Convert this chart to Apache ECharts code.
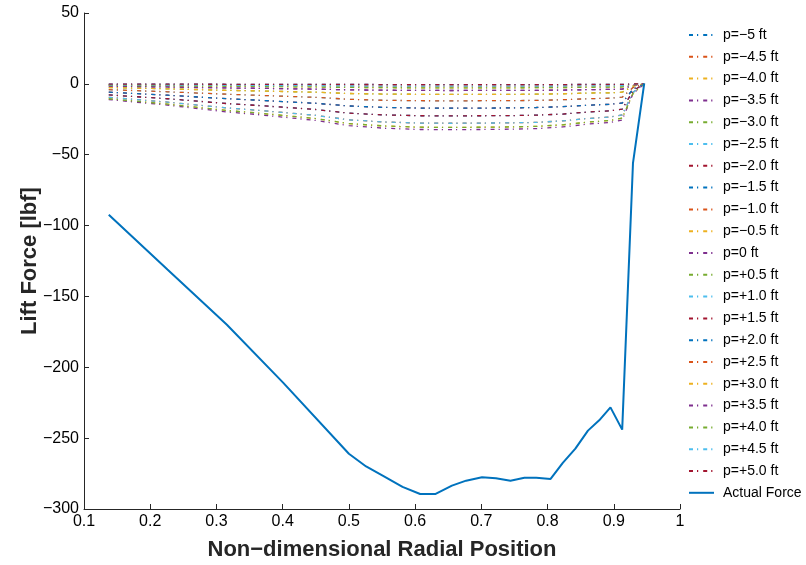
<!DOCTYPE html>
<html>
<head>
<meta charset="utf-8">
<script src="https://cdn.jsdelivr.net/npm/echarts@6/dist/echarts.min.js"></script>
<style>
  html, body { margin: 0; padding: 0; background: #ffffff; }
  #chart { width: 806px; height: 565px; }
</style>
</head>
<body>
<div id="chart"></div>
<script>
// Radial stations (r/R) and total lift force on the blade [lbf]
const forceStations = [0.1374, 0.226, 0.3158, 0.401, 0.500, 0.526, 0.553, 0.581, 0.6076, 0.631,
  0.6556, 0.677, 0.701, 0.722, 0.744, 0.765, 0.783, 0.8046, 0.823, 0.842,
  0.861, 0.878, 0.895, 0.9127, 0.929, 0.946];
const actualForce = [-92.4, -131, -170, -211, -261, -270, -277, -284.4, -289.4, -289.4,
  -283.5, -280, -277.6, -278.3, -280, -278, -278, -278.8, -267.5, -257.4,
  -244.7, -237.4, -228.3, -244, -55.9, 0.4];

// Stations for the lift contributions at each offset p
const offsetStations = [0.1374, 0.226, 0.3158, 0.358, 0.401, 0.45, 0.500, 0.553, 0.6076, 0.6556,
  0.701, 0.744, 0.783, 0.823, 0.861, 0.895, 0.9127, 0.929, 0.946];

// Lift at offset |p| (the +p and -p offsets coincide)
const liftP00 = [-11.1, -15.0, -19.8, -21.5, -23.5, -25.8, -29.5, -31.3, -32.2, -32.3, -32.2, -32.0, -31.6, -30.4, -28.4, -27.2, -25.5, -7.0, 0];
const liftP05 = [-10.5, -14.3, -18.8, -20.4, -22.3, -24.5, -28.0, -29.7, -30.6, -30.7, -30.6, -30.4, -30.0, -28.9, -27.0, -25.8, -24.2, -6.7, 0];
const liftP10 = [-9.5, -12.9, -17.0, -18.5, -20.2, -22.2, -25.4, -26.9, -27.7, -27.8, -27.7, -27.5, -27.2, -26.1, -24.4, -23.4, -21.9, -6.0, 0];
const liftP15 = [-7.8, -10.5, -13.9, -15.1, -16.5, -18.1, -20.7, -21.9, -22.5, -22.6, -22.5, -22.4, -22.1, -21.3, -19.9, -19.0, -17.9, -4.9, 0];
const liftP20 = [-5.9, -8.0, -10.5, -11.4, -12.5, -13.7, -15.6, -16.6, -17.1, -17.1, -17.1, -17.0, -16.7, -16.1, -15.1, -14.4, -13.5, -3.7, 0];
const liftP25 = [-4.1, -5.6, -7.3, -8.0, -8.7, -9.5, -10.9, -11.6, -11.9, -12.0, -11.9, -11.8, -11.7, -11.2, -10.5, -10.1, -9.4, -2.6, 0];
const liftP30 = [-2.6, -3.5, -4.6, -4.9, -5.4, -5.9, -6.8, -7.2, -7.4, -7.4, -7.4, -7.4, -7.3, -7.0, -6.5, -6.3, -5.9, -1.6, 0];
const liftP35 = [-1.6, -2.2, -2.9, -3.1, -3.4, -3.7, -4.2, -4.5, -4.6, -4.7, -4.6, -4.6, -4.6, -4.4, -4.1, -3.9, -3.7, -1.0, 0];
const liftP40 = [-1.0, -1.3, -1.7, -1.8, -2.0, -2.2, -2.5, -2.7, -2.8, -2.8, -2.8, -2.8, -2.7, -2.6, -2.4, -2.3, -2.2, -0.6, 0];
const liftP45 = [-0.6, -0.8, -1.0, -1.1, -1.2, -1.3, -1.5, -1.6, -1.6, -1.6, -1.6, -1.6, -1.6, -1.5, -1.4, -1.4, -1.3, -0.4, 0];
const liftP50 = [-0.2, -0.2, -0.3, -0.3, -0.4, -0.4, -0.4, -0.5, -0.5, -0.5, -0.5, -0.5, -0.5, -0.5, -0.4, -0.4, -0.4, -0.1, 0];

// Offsets in legend order, each with its lift curve
const offsetNames = ['p=\u22125 ft', 'p=\u22124.5 ft', 'p=\u22124.0 ft', 'p=\u22123.5 ft', 'p=\u22123.0 ft',
  'p=\u22122.5 ft', 'p=\u22122.0 ft', 'p=\u22121.5 ft', 'p=\u22121.0 ft', 'p=\u22120.5 ft', 'p=0 ft',
  'p=+0.5 ft', 'p=+1.0 ft', 'p=+1.5 ft', 'p=+2.0 ft', 'p=+2.5 ft', 'p=+3.0 ft', 'p=+3.5 ft',
  'p=+4.0 ft', 'p=+4.5 ft', 'p=+5.0 ft'];
const offsetCurves = [liftP50, liftP45, liftP40, liftP35, liftP30, liftP25, liftP20, liftP15, liftP10, liftP05,
  liftP00, liftP05, liftP10, liftP15, liftP20, liftP25, liftP30, liftP35, liftP40, liftP45, liftP50];

const xTicks = [0.1, 0.2, 0.3, 0.4, 0.5, 0.6, 0.7, 0.8, 0.9, 1];
const yTicks = [50, 0, -50, -100, -150, -200, -250, -300];

const palette = ['#0072BD', '#D95319', '#EDB120', '#7E2F8E', '#77AC30', '#4DBEEE', '#A2142F'];
const axisColor = '#262626';
const fontFamily = '"Liberation Sans", Arial, Helvetica, sans-serif';

const series = offsetNames.map((name, i) => ({
  name: name,
  type: 'line',
  data: offsetStations.map((x, k) => [x, offsetCurves[i][k]]),
  symbol: 'none',
  color: palette[i % palette.length],
  lineStyle: { width: 1.3, type: [4, 4, 1.2, 5], color: palette[i % palette.length] },
  z: 2,
  animation: false
}));
series.push({
  name: 'Actual Force',
  type: 'line',
  data: forceStations.map((x, k) => [x, actualForce[k]]),
  symbol: 'none',
  color: '#0072BD',
  lineStyle: { width: 2, type: 'solid', color: '#0072BD' },
  z: 3,
  animation: false
});

const fmtNum = v => (v < 0 ? '\u2212' + Math.abs(v) : String(v));

const chart = echarts.init(document.getElementById('chart'), null, { renderer: 'canvas' });
chart.setOption({
  backgroundColor: '#ffffff',
  animation: false,
  grid: { left: 84, right: 126, top: 13, bottom: 56, containLabel: false, outerBoundsMode: 'none' },
  legend: {
    orient: 'vertical',
    left: 688,
    top: 28,
    padding: 0,
    itemWidth: 25,
    itemHeight: 14,
    itemGap: 7.8,
    itemStyle: { opacity: 0 },
    data: offsetNames.concat(['Actual Force']),
    textStyle: { fontFamily: fontFamily, fontSize: 14, color: '#000000', padding: [0, 0, 0, 4] },
    selectedMode: false
  },
  xAxis: {
    type: 'value',
    min: xTicks[0],
    max: xTicks[xTicks.length - 1],
    interval: 0.1,
    name: 'Non\u2212dimensional Radial Position',
    nameLocation: 'middle',
    nameGap: 30,
    nameTextStyle: { fontFamily: fontFamily, fontSize: 22, fontWeight: 'bold', color: axisColor },
    axisLine: { show: true, onZero: false, lineStyle: { color: axisColor, width: 1 } },
    axisTick: { show: true, inside: true, length: 5, lineStyle: { color: axisColor } },
    splitLine: { show: false },
    axisLabel: {
      show: true, margin: 5, showMinLabel: true, showMaxLabel: true,
      fontFamily: fontFamily, fontSize: 16, color: '#000000',
      formatter: v => {
        const t = xTicks.find(s => Math.abs(s - v) < 1e-6);
        return t === undefined ? '' : String(t);
      }
    }
  },
  yAxis: {
    type: 'value',
    min: yTicks[yTicks.length - 1],
    max: yTicks[0],
    interval: 50,
    name: 'Lift Force [lbf]',
    nameLocation: 'middle',
    nameGap: 43,
    nameMoveOverlap: false,
    nameTextStyle: { fontFamily: fontFamily, fontSize: 22, fontWeight: 'bold', color: axisColor },
    axisLine: { show: true, onZero: false, lineStyle: { color: axisColor, width: 1 } },
    axisTick: { show: true, inside: true, length: 5, lineStyle: { color: axisColor } },
    splitLine: { show: false },
    axisLabel: {
      show: true, margin: 5, showMinLabel: true, showMaxLabel: true,
      fontFamily: fontFamily, fontSize: 16, color: '#000000',
      formatter: v => fmtNum(Math.round(v))
    }
  },
  series: series
});
</script>
</body>
</html>
